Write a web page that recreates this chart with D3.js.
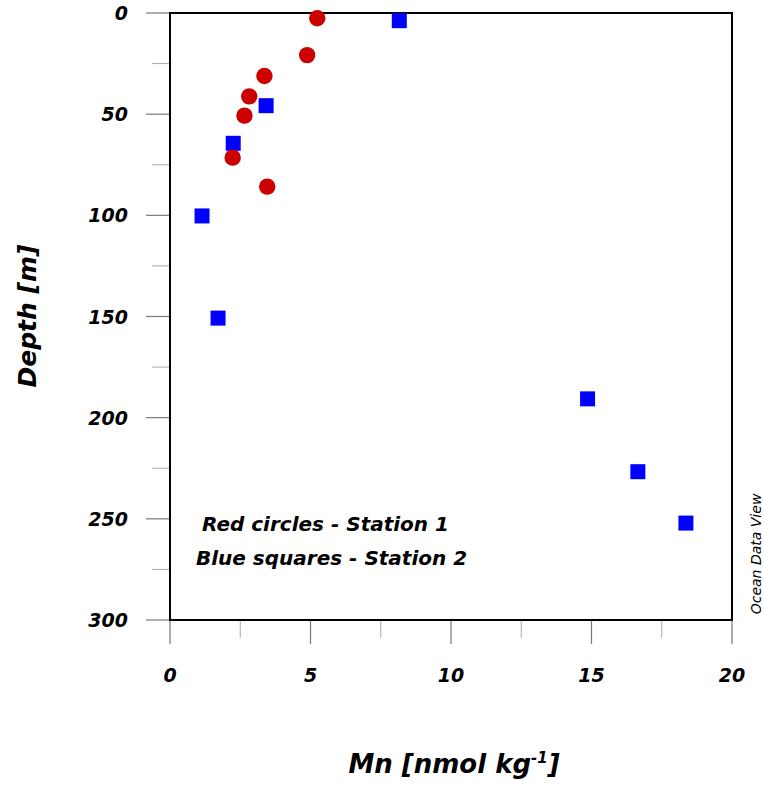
<!DOCTYPE html>
<html>
<head>
<meta charset="utf-8">
<script src="https://cdn.jsdelivr.net/npm/d3@7"></script>
<style>
  body { margin: 0; background: #fff; }
  text { font-family: "DejaVu Sans", Verdana, sans-serif; }
</style>
</head>
<body>
<div id="chart"></div>
<script>
// Mn profiles, two stations (depth down)
const station1Mn    = [5.24, 4.88, 3.36, 2.82, 2.65, 2.23, 3.46];
const station1Depth = [2.6, 20.8, 31.1, 41.2, 50.7, 71.5, 85.8];
const station2Mn    = [8.16, 3.42, 2.25, 1.14, 1.71, 14.86, 16.65, 18.36];
const station2Depth = [3.8, 45.8, 64.4, 100.3, 150.8, 190.7, 226.7, 252.1];
const xMajorTicks = [0, 5, 10, 15, 20];
const xMinorTicks = [2.5, 7.5, 12.5, 17.5];
const yMajorTicks = [0, 50, 100, 150, 200, 250, 300];
const yMinorTicks = [25, 75, 125, 175, 225, 275];
const legendLines = ['Red circles - Station 1', 'Blue squares - Station 2'];

const W = 763, H = 786;
const margin = { top: 13, right: 31, bottom: 166, left: 170 };
const width = W - margin.left - margin.right;
const height = H - margin.top - margin.bottom;

const svg = d3.select('#chart').append('svg')
    .attr('width', W).attr('height', H);
const g = svg.append('g')
    .attr('transform', `translate(${margin.left},${margin.top})`);

const x = d3.scaleLinear().domain([0, 20]).range([0, width]);
const y = d3.scaleLinear().domain([0, 300]).range([0, height]);

// assi: tick fuori dal riquadro
const yAxis = g.append('g');
yAxis.selectAll('.maj').data(yMajorTicks).join('line')
    .attr('x1', -24).attr('x2', 0)
    .attr('y1', d => y(d)).attr('y2', d => y(d))
    .attr('stroke', '#777').attr('stroke-width', 1.2);
yAxis.selectAll('.min').data(yMinorTicks).join('line')
    .attr('x1', -18).attr('x2', 0)
    .attr('y1', d => y(d)).attr('y2', d => y(d))
    .attr('stroke', '#aaa').attr('stroke-width', 1);
yAxis.selectAll('text').data(yMajorTicks).join('text')
    .attr('x', -42).attr('y', d => y(d) + 7)
    .attr('text-anchor', 'end')
    .attr('font-size', 19).attr('font-weight', 'bold').attr('font-style', 'italic')
    .text(d => d);

const xAxis = g.append('g').attr('transform', `translate(0,${height})`);
xAxis.selectAll('.maj').data(xMajorTicks).join('line')
    .attr('x1', d => x(d)).attr('x2', d => x(d))
    .attr('y1', 0).attr('y2', 24)
    .attr('stroke', '#777').attr('stroke-width', 1.2);
xAxis.selectAll('.min').data(xMinorTicks).join('line')
    .attr('x1', d => x(d)).attr('x2', d => x(d))
    .attr('y1', 0).attr('y2', 18)
    .attr('stroke', '#aaa').attr('stroke-width', 1);
xAxis.selectAll('text').data(xMajorTicks).join('text')
    .attr('x', d => x(d)).attr('y', 62)
    .attr('text-anchor', 'middle')
    .attr('font-size', 19).attr('font-weight', 'bold').attr('font-style', 'italic')
    .text(d => d);

// riquadro
g.append('rect')
    .attr('width', width).attr('height', height)
    .attr('fill', 'none').attr('stroke', '#000').attr('stroke-width', 2);

// punti
const sq = 15;
g.selectAll('.sq').data(station2Mn.map((v, i) => [v, station2Depth[i]])).join('rect')
    .attr('x', d => x(d[0]) - sq / 2).attr('y', d => y(d[1]) - sq / 2)
    .attr('width', sq).attr('height', sq)
    .attr('fill', '#0000ff');
g.selectAll('.dot').data(station1Mn.map((v, i) => [v, station1Depth[i]])).join('circle')
    .attr('cx', d => x(d[0])).attr('cy', d => y(d[1]))
    .attr('r', 8.2)
    .attr('fill', '#cc0000');

// legenda testuale
g.selectAll('.leg').data(legendLines).join('text')
    .attr('x', (d, i) => i === 0 ? 32 : 26)
    .attr('y', (d, i) => 518 + i * 34)
    .attr('font-size', 20).attr('font-style', 'italic').attr('font-weight', 600)
    .text(d => d);

// etichette assi
svg.append('text')
    .attr('transform', 'translate(36,316) rotate(-90)')
    .attr('text-anchor', 'middle')
    .attr('font-size', 25).attr('font-weight', 'bold').attr('font-style', 'italic')
    .text('Depth [m]');

const xl = svg.append('text')
    .attr('x', 454).attr('y', 773)
    .attr('text-anchor', 'middle')
    .attr('font-size', 26).attr('font-weight', 'bold').attr('font-style', 'italic');
xl.append('tspan').text('Mn [nmol kg');
xl.append('tspan').attr('dy', -10).attr('font-size', 15).text('-1');
xl.append('tspan').attr('dy', 10).text(']');

svg.append('text')
    .attr('transform', 'translate(761,554) rotate(-90)')
    .attr('text-anchor', 'middle')
    .attr('font-size', 14).attr('font-style', 'italic')
    .text('Ocean Data View');
</script>
</body>
</html>
